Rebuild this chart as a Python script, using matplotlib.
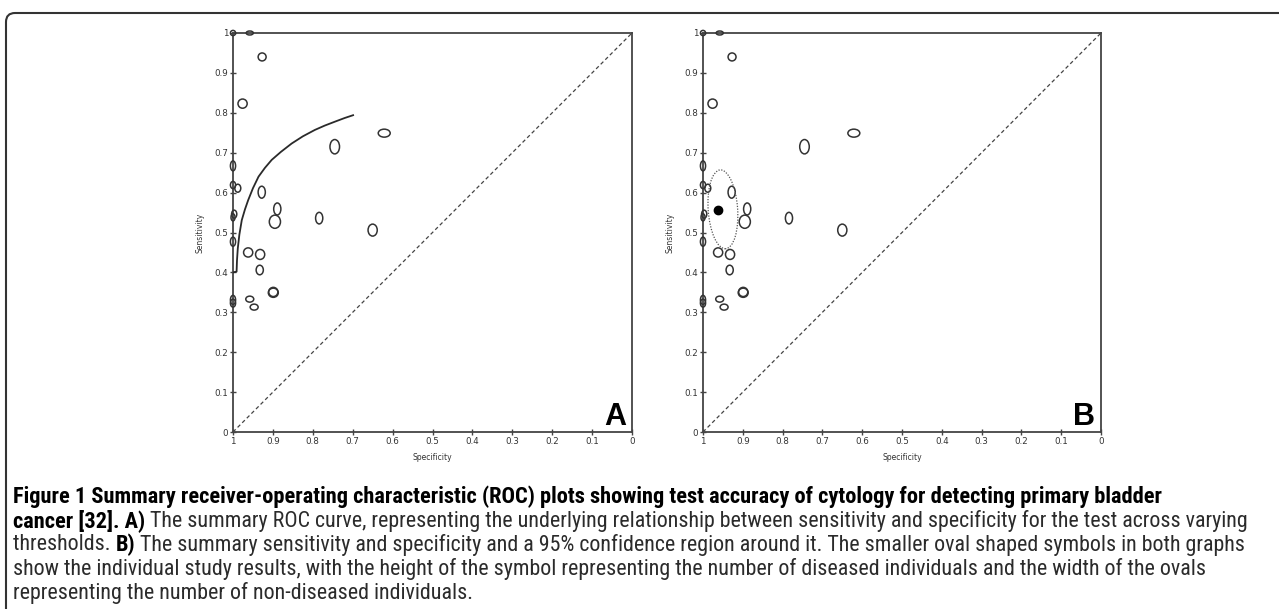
import matplotlib
matplotlib.use("Agg")
import matplotlib.pyplot as plt
from matplotlib.patches import Ellipse
from matplotlib.path import Path
from matplotlib.patches import PathPatch
from matplotlib import font_manager

# ---------------- data ----------------
study_spec = [1.000, 0.958, 0.927, 0.976, 0.745, 0.621, 1.000, 1.000, 0.988, 0.928,
              0.889, 0.997, 1.000, 0.895, 0.784, 0.650, 1.000, 0.962, 0.932, 0.933,
              0.899, 0.899, 1.000, 1.000, 0.958, 0.947]
study_sens = [1.000, 1.000, 0.940, 0.823, 0.715, 0.749, 0.667, 0.619, 0.611, 0.601,
              0.559, 0.546, 0.538, 0.527, 0.536, 0.506, 0.477, 0.450, 0.445, 0.406,
              0.349, 0.351, 0.331, 0.323, 0.333, 0.313]
# symbol width (non-diseased) and height (diseased), in axis units
study_w = [0.013, 0.018, 0.020, 0.023, 0.024, 0.030, 0.013, 0.013, 0.015, 0.018,
           0.018, 0.013, 0.010, 0.028, 0.018, 0.023, 0.013, 0.023, 0.023, 0.018,
           0.025, 0.023, 0.013, 0.013, 0.020, 0.020]
study_h = [0.013, 0.010, 0.020, 0.023, 0.036, 0.020, 0.025, 0.018, 0.020, 0.030,
           0.030, 0.020, 0.018, 0.033, 0.029, 0.030, 0.023, 0.023, 0.025, 0.024,
           0.023, 0.023, 0.023, 0.020, 0.015, 0.015]

sroc_spec = [1.000, 0.991, 0.990, 0.988, 0.984, 0.978, 0.970, 0.962, 0.950, 0.936,
             0.920, 0.903, 0.880, 0.853, 0.825, 0.795, 0.770, 0.744, 0.720, 0.699]
sroc_sens = [0.400, 0.402, 0.430, 0.460, 0.495, 0.531, 0.558, 0.581, 0.611, 0.640,
             0.662, 0.682, 0.702, 0.723, 0.741, 0.757, 0.768, 0.778, 0.787, 0.794]

summary_spec = 0.963
summary_sens = 0.556
conf_center_spec = 0.950
conf_center_sens = 0.558
conf_width = 0.074
conf_height = 0.198

ticks = [0, 0.1, 0.2, 0.3, 0.4, 0.5, 0.6, 0.7, 0.8, 0.9, 1.0]
tick_labels = ["0", "0.1", "0.2", "0.3", "0.4", "0.5", "0.6", "0.7", "0.8", "0.9", "1"]
panel_letters = ["A", "B"]

caption_lines = [
    [("Figure 1 Summary receiver-operating characteristic (ROC) plots showing test accuracy of cytology for detecting primary bladder", True)],
    [("cancer [32]. A)", True),
     (" The summary ROC curve, representing the underlying relationship between sensitivity and specificity for the test across varying", False)],
    [("thresholds. ", False), ("B)", True),
     (" The summary sensitivity and specificity and a 95% confidence region around it. The smaller oval shaped symbols in both graphs", False)],
    [("show the individual study results, with the height of the symbol representing the number of diseased individuals and the width of the ovals", False)],
    [("representing the number of non-diseased individuals.", False)],
]

# ---------------- figure ----------------
W, H = 1279, 609
fig = plt.figure(figsize=(W / 100, H / 100), dpi=100)
fig.patch.set_facecolor("white")

ink = "#333333"
axes_px = [(233, 33, 632, 432), (703, 33, 1101, 432)]

for i, (x0, y0, x1, y1) in enumerate(axes_px):
    ax = fig.add_axes([x0 / W, 1 - y1 / H, (x1 - x0) / W, (y1 - y0) / H])
    ax.set_xlim(1, 0)
    ax.set_ylim(0, 1)
    for s in ax.spines.values():
        s.set_color("#444444")
        s.set_linewidth(1.3)
    ax.set_xticks(ticks)
    ax.set_xticklabels(tick_labels)
    ax.set_yticks(ticks)
    ax.set_yticklabels(tick_labels)
    ax.tick_params(direction="inout", length=5, width=1, colors="#444444",
                   labelsize=6.3, pad=1, labelcolor="#333333")
    ax.set_xlabel("Specificity", fontsize=5.5, color="#333333", labelpad=5)
    ax.set_ylabel("Sensitivity", fontsize=5.5, color="#333333", labelpad=7)

    # chance diagonal
    ax.plot([1, 0], [0, 1], linestyle=(0, (3, 2.2)), color="#444444", lw=0.9)

    for sx, sy, w, h in zip(study_spec, study_sens, study_w, study_h):
        ax.add_patch(Ellipse((sx, sy), w, h, fill=False, edgecolor=ink, lw=1.1,
                             clip_on=False, zorder=3))

    if i == 0:
        ax.plot(sroc_spec, sroc_sens, color="#2a2a2a", lw=1.3, zorder=4)
    else:
        ax.add_patch(Ellipse((conf_center_spec, conf_center_sens), conf_width, conf_height,
                             angle=-4, fill=False, edgecolor="#555555", lw=0.9,
                             linestyle=(0, (1, 1.2)), zorder=4))
        ax.plot([summary_spec], [summary_sens], "o", color="black", ms=6, zorder=5)

    ax.text(0.985, 0.0, panel_letters[i], transform=ax.transAxes, ha="right", va="bottom",
            fontsize=22, fontweight="bold", color="black", family="Liberation Sans")

# ---------------- border ----------------
r = 0.09
bx, by = 6 / 100, (H - 13) / 100
verts = [(bx, -0.1), (bx, by - r), (bx, by), (bx + r, by), (W / 100 + 0.1, by)]
codes = [Path.MOVETO, Path.LINETO, Path.CURVE3, Path.CURVE3, Path.LINETO]
fig.add_artist(PathPatch(Path(verts, codes), transform=fig.dpi_scale_trans,
                         fill=False, edgecolor="#333333", lw=1.5))

# ---------------- caption ----------------
available = {f.name for f in font_manager.fontManager.ttflist}
cap_font = None
for cand in ["Liberation Sans Narrow", "DejaVu Sans Condensed", "Roboto Condensed",
             "Open Sans Condensed", "Noto Sans Condensed", "Lato", "Roboto"]:
    if cand in available:
        cap_font = cand
        break
if cap_font is None:
    cap_font = "DejaVu Sans"
cap_stretch = "condensed"

renderer = fig.canvas.get_renderer()


def fit_size(text, weight, target):
    probe = fig.text(0, 0, text, fontsize=10, fontweight=weight,
                     family=cap_font, fontstretch=cap_stretch)
    w = probe.get_window_extent(renderer).width
    probe.remove()
    return 10 * target / w


fs_norm = fit_size(caption_lines[3][0][0], "normal", 1183)
fs_bold = min(fit_size(caption_lines[0][0][0], "bold", 1241), fs_norm * 1.02)

line_y = [497, 521, 545, 569, 593]
for segs, yy in zip(caption_lines, line_y):
    xpx = 13
    for txt, bold in segs:
        t = fig.text(xpx / W, 1 - yy / H, txt, fontsize=fs_bold if bold else fs_norm,
                     fontweight="bold" if bold else "normal",
                     color="black" if bold else "#2b2b2b",
                     family=cap_font, fontstretch=cap_stretch, va="center", ha="left")
        xpx += t.get_window_extent(renderer).width

fig.savefig("out.png", dpi=100, facecolor="white")
